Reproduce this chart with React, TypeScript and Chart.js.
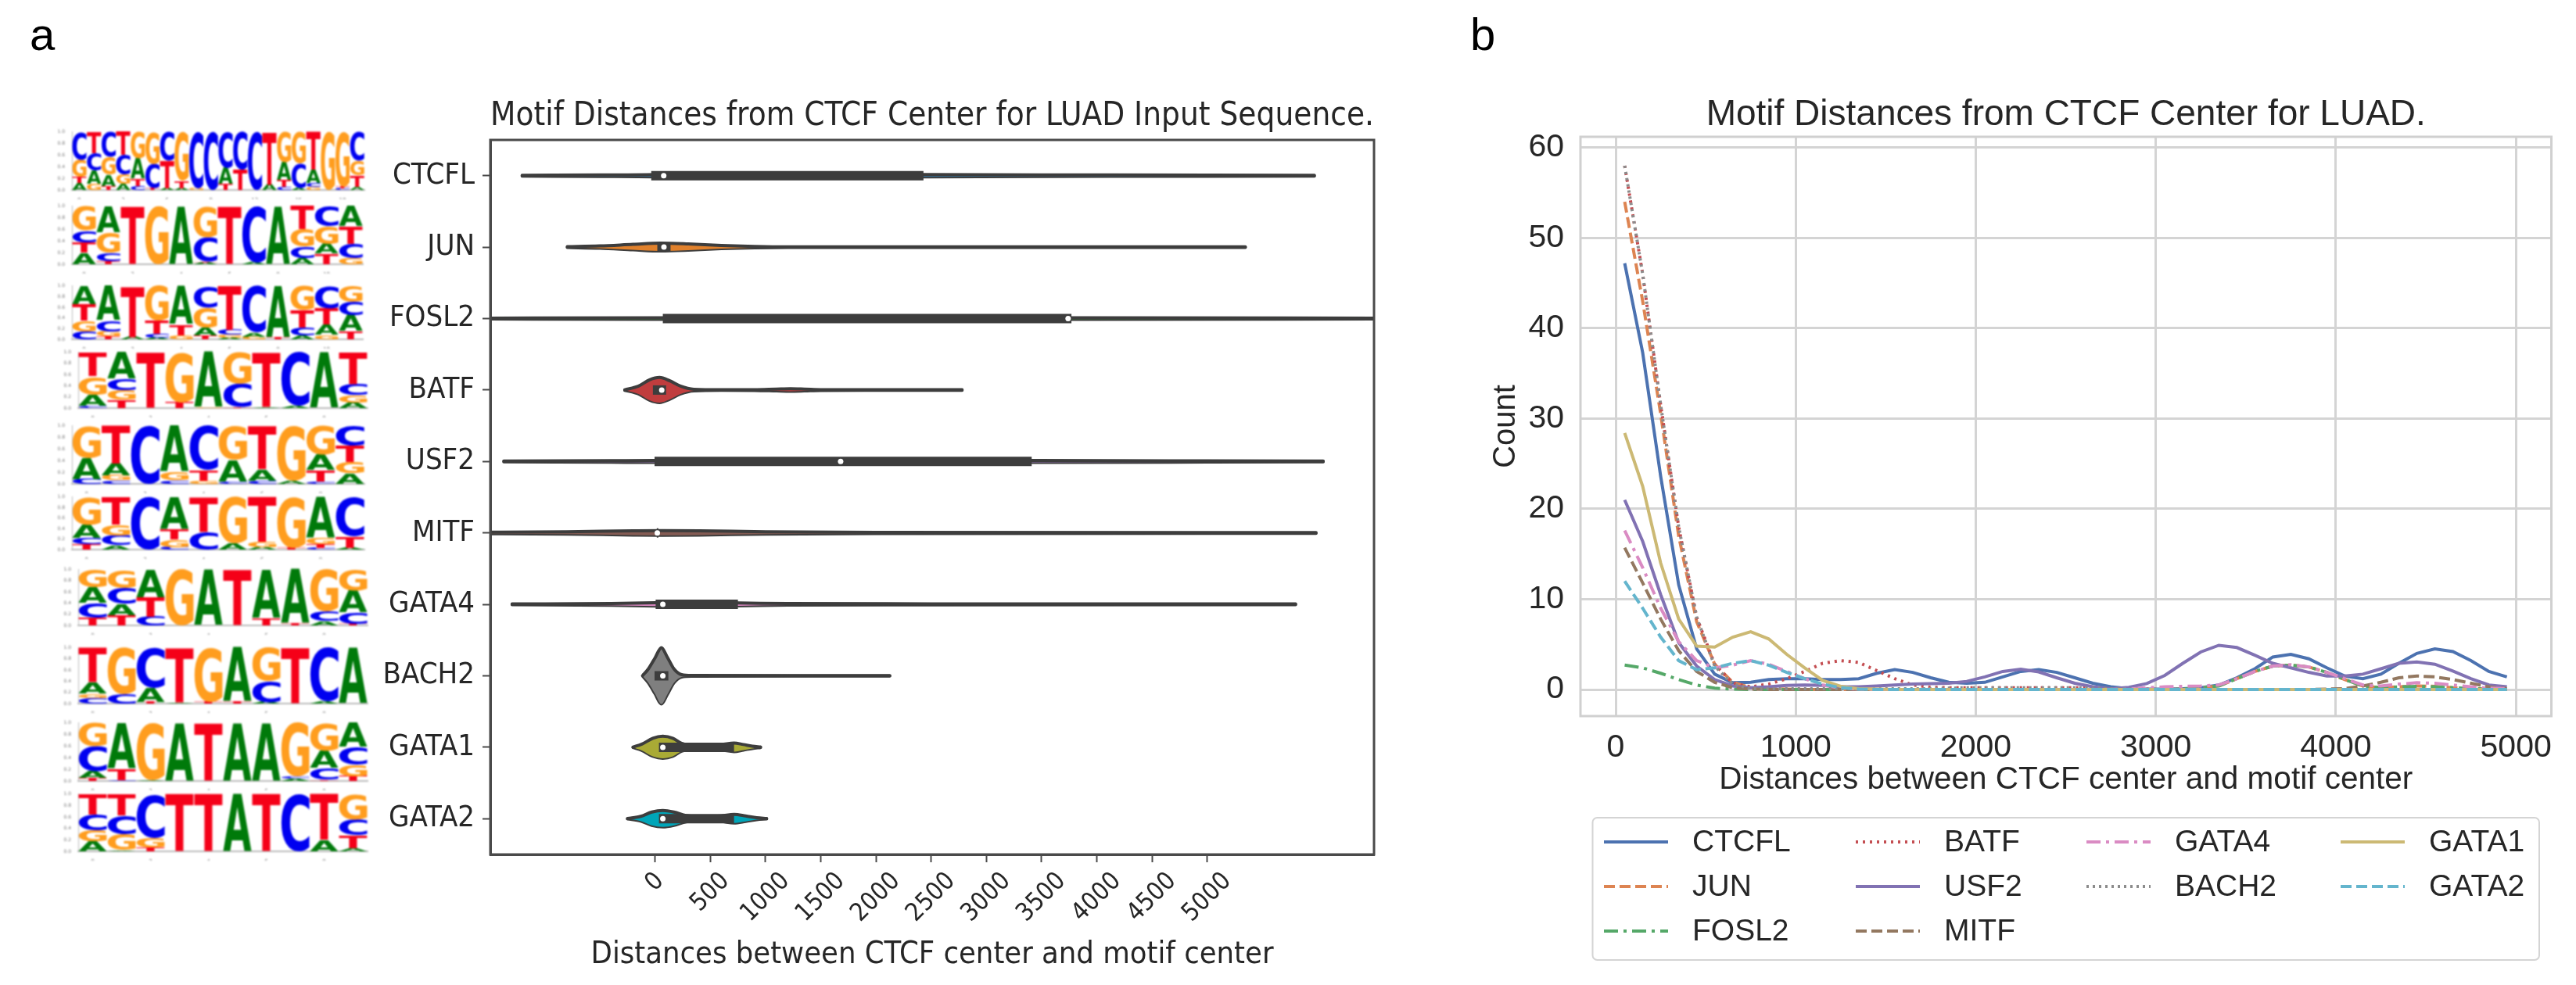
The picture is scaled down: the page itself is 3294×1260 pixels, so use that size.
import React, { useEffect, useRef } from "react";
import { Chart, registerables } from "chart.js";

Chart.register(...registerables);

/* ---------- panel a: violin data ---------- */
const motifs = ["CTCFL", "JUN", "FOSL2", "BATF", "USF2", "MITF", "GATA4", "BACH2", "GATA1", "GATA2"];
const violinTicks = [0, 500, 1000, 1500, 2000, 2500, 3000, 3500, 4000, 4500, 5000];
const violinColors = ["#3274a1", "#e1812c", "#3a923a", "#c03d3e", "#9372b2", "#845b53", "#d684bd", "#7f7f7f", "#a9aa35", "#00a5b8"];

const ctcflShape = [[-1204, 0.5], [-500, 1], [0, 1.5], [80, 2], [500, 2], [2430, 1.5], [3500, 1], [5000, 0.7], [5970, 0.5]];
const junShape = [[-795, 0.5], [-500, 1.5], [-200, 3.5], [50, 5], [300, 4], [600, 2], [900, 0.8], [1200, 0.3], [5345, 0.3]];
const fosl2Shape = [[-1700, 0.5], [70, 1], [3770, 1], [6800, 0.5]];
const batfShape = [[-275, 0.3], [-150, 5], [-50, 13], [40, 16], [130, 12], [230, 5], [350, 1], [600, 0.4], [900, 0.5], [1100, 1.2], [1225, 1.6], [1350, 1.2], [1500, 0.5], [1900, 0.3], [2780, 0.3]];
const usf2Shape = [[-1370, 0.5], [-400, 1], [0, 1.2], [1680, 1.2], [3410, 1.2], [5000, 0.8], [6050, 0.5]];
const mitfShape = [[-1700, 0.8], [-800, 1.5], [-200, 2.7], [60, 3], [400, 2.7], [1000, 1.5], [2000, 0.8], [5985, 0.5]];
const gata4Shape = [[-1295, 0.5], [-400, 1.2], [0, 2.2], [70, 2.5], [400, 2], [750, 1.8], [1200, 1], [2500, 0.7], [5800, 0.5]];
const bach2Shape = [[-113, 0.3], [-60, 9], [0, 23], [57, 36], [110, 24], [170, 9], [240, 1.5], [330, 0.4], [2125, 0.3]];
const gata1Shape = [[-200, 0.3], [-120, 4], [-20, 11.5], [70, 14], [160, 11.5], [240, 5], [330, 2.5], [600, 3.5], [715, 5.5], [800, 3.5], [880, 1.5], [955, 0.3]];
const gata2Shape = [[-250, 0.3], [-130, 3], [-30, 8.5], [70, 10.5], [170, 8.5], [280, 4], [400, 2.5], [600, 3.5], [715, 5.5], [820, 3.5], [920, 1.2], [1010, 0.3]];
const violinShapes = [ctcflShape, junShape, fosl2Shape, batfShape, usf2Shape, mitfShape, gata4Shape, bach2Shape, gata1Shape, gata2Shape];

const boxQ1 = [-35, 20, 70, -20, -5, 15, 5, -5, 35, 35];
const boxQ3 = [2430, 140, 3770, 100, 3410, 30, 750, 120, 715, 715];
const medians = [78, 80, 3740, 60, 1680, 20, 70, 70, 70, 70];

/* ---------- panel a: sequence logos (bottom to top in each column) ---------- */
const logoCTCFL = [
  "A.12 T.10 G.30 C.48", "G.10 A.23 C.30 T.37", "T.07 A.20 G.30 C.43", "A.10 G.16 C.34 T.40", "C.07 T.13 A.35 G.45",
  "T.03 C.42 G.55", "A.03 T.47 C.50", "A.03 T.13 G.84", "G.03 C.97", "C1", "T.10 A.28 C.62", "T.35 C.65", "C1",
  "A.10 T.90", "C.05 T.12 A.31 G.52", "A.04 C.42 G.54", "G.05 C.07 A.23 T.65", "G1", "C.03 T.03 G.94", "A.05 T.20 G.25 C.50",
];
const logoJUN = [
  "A.20 T.18 C.20 G.42", "T.05 C.15 G.35 A.45", "T1", "G1", "A1", "A.03 T.02 C.42 G.53", "T1", "A.03 C.97", "A1",
  "A.10 C.20 G.30 T.40", "T.18 A.17 G.30 C.35", "G.10 C.25 T.30 A.35",
];
const logoFOSL2 = [
  "C.15 G.20 T.30 A.35", "T.05 G.10 C.20 A.65", "A.05 T.95", "A.03 C.07 T.25 G.65", "G.08 T.20 A.72", "T.07 A.15 G.38 C.40",
  "A.03 G.05 C.10 T.82", "G.05 A.08 C.87", "T.03 A.97", "A.07 C.15 T.33 G.45", "G.08 A.20 T.30 C.42", "T.15 A.30 C.25 G.30",
];
const logoBATF = [
  "C.04 A.20 G.33 T.43", "T.15 G.17 C.20 A.48", "T1", "T.10 G.90", "G.01 A.99", "T.02 C.42 G.56", "A.02 T.98", "A.04 C.96", "A1", "A.10 G.13 C.20 T.57",
];
const logoUSF2 = [
  "C.08 A.37 G.55", "C.06 G.08 A.21 T.65", "C1", "C.06 G.14 A.80", "G.06 T.18 C.76", "C.04 A.37 G.59", "C.05 A.20 T.75", "A.05 G.95",
  "C.04 T.20 A.26 G.50", "A.18 G.20 T.28 C.34",
];
const logoMITF = [
  "T.10 C.12 A.25 G.53", "A.08 C.19 G.20 T.53", "C1", "C.05 G.14 T.20 A.61", "C.33 T.67", "A.12 G.88", "A.05 G.10 T.85", "T.03 G.97",
  "C.03 T.07 G.12 A.78", "A.03 T.22 C.75",
];
const logoGATA4 = [
  "T.14 C.26 A.28 G.32", "T.18 A.21 C.28 G.33", "C.16 T.34 A.50", "G1", "A1", "T1", "T.13 A.87", "T.03 A.97", "A.08 C.17 G.75", "T.03 C.20 A.40 G.37",
];
const logoBACH2 = [
  "C.10 G.08 A.20 T.62", "C.17 G.83", "T.03 A.25 C.72", "A.02 T.98", "T.03 G.97", "T.03 A.97", "A.03 C.37 G.60", "T1", "A.04 C.96", "A1",
];
const logoGATA1 = [
  "T.05 A.12 C.43 G.40", "C.02 T.20 A.78", "A.02 G.98", "A1", "T1", "A1", "A1", "A.04 C.04 G.92", "T.02 C.20 A.30 G.48", "T.08 G.20 C.30 A.42",
];
const logoGATA2 = [
  "A.17 G.20 C.27 T.36", "A.02 G.28 C.33 T.37", "T.07 G.17 C.76", "T1", "T1", "A1", "T1", "C1", "A.20 T.80", "A.06 T.22 C.27 G.45",
];
const logos = [logoCTCFL, logoJUN, logoFOSL2, logoBATF, logoUSF2, logoMITF, logoGATA4, logoBACH2, logoGATA1, logoGATA2];
const logoBoxes = [
  [92, 166, 374, 77], [92, 261, 372, 77], [92, 363, 372, 71], [100, 448, 370, 74], [92, 542, 374, 77],
  [92, 633, 374, 70], [100, 726, 370, 74], [100, 826, 370, 74], [100, 922, 370, 77], [100, 1013, 370, 76],
];
const letterColors = { A: "#007a0a", C: "#0000f0", G: "#ff9d1e", T: "#f50018" };

/* ---------- panel b: line data ---------- */
const binCenters = [
  50, 150, 250, 350, 450, 550, 650, 750, 850, 950, 1050, 1150, 1250, 1350, 1450, 1550, 1650, 1750, 1850, 1950, 2050, 2150, 2250, 2350, 2450,
  2550, 2650, 2750, 2850, 2950, 3050, 3150, 3250, 3350, 3450, 3550, 3650, 3750, 3850, 3950, 4050, 4150, 4250, 4350, 4450, 4550, 4650, 4750, 4850, 4950,
];
const ctcfl = [47.2, 37.3, 23.6, 11.6, 4.5, 1.7, 0.75, 0.8, 1.1, 1.2, 1.2, 1.1, 1.1, 1.2, 1.8, 2.2, 1.9, 1.3, 0.8, 0.7, 0.8, 1.4, 2.0, 2.2, 1.9, 1.3, 0.7, 0.3, 0.1, 0.05, 0.05, 0.1, 0.2, 0.5, 1.3, 2.3, 3.6, 3.9, 3.4, 2.4, 1.5, 1.2, 1.7, 2.9, 4.0, 4.5, 4.2, 3.2, 2.0, 1.4];
const jun = [54, 43, 30.5, 17, 7.5, 2.8, 0.8, 0.2, 0.1, 0.05, 0, 0, 0, 0, 0, 0, 0, 0, 0, 0, 0, 0, 0, 0, 0, 0, 0, 0, 0, 0, 0, 0.05, 0.2, 0.4, 1.2, 2, 2.6, 2.7, 2.5, 1.9, 1.1, 0.4, 0.2, 0.3, 0.4, 0.35, 0.2, 0.1, 0.05, 0];
const fosl2 = [2.7, 2.4, 1.8, 1.1, 0.5, 0.15, 0.05, 0, 0, 0, 0, 0, 0, 0, 0, 0, 0, 0, 0, 0, 0, 0, 0, 0, 0, 0, 0, 0, 0, 0, 0, 0.05, 0.2, 0.4, 1.2, 2, 2.6, 2.7, 2.5, 1.9, 1.1, 0.4, 0.2, 0.3, 0.35, 0.3, 0.2, 0.1, 0.05, 0];
const batf = [58, 46, 31.5, 18, 8, 2.8, 0.7, 0.3, 0.6, 1.2, 2.0, 2.9, 3.2, 3.0, 2.1, 1.2, 0.5, 0.25, 0.2, 0.2, 0.2, 0.2, 0.2, 0.2, 0.2, 0.2, 0.15, 0.1, 0.05, 0.05, 0, 0, 0, 0, 0, 0, 0, 0, 0, 0, 0, 0, 0, 0, 0, 0, 0, 0, 0, 0];
const usf2 = [21, 16.4, 10.5, 5.2, 2.6, 1.1, 0.4, 0.2, 0.3, 0.45, 0.5, 0.45, 0.3, 0.3, 0.4, 0.5, 0.6, 0.65, 0.7, 0.9, 1.4, 2.0, 2.25, 1.95, 1.3, 0.7, 0.3, 0.1, 0.25, 0.66, 1.56, 2.9, 4.16, 4.9, 4.65, 3.8, 2.9, 2.4, 1.9, 1.5, 1.5, 1.7, 2.3, 2.9, 3.05, 2.8, 2.05, 1.2, 0.5, 0.3];
const mitf = [15.7, 11.8, 7.8, 4.3, 2, 0.8, 0.2, 0.05, 0, 0, 0, 0, 0, 0, 0, 0, 0, 0, 0, 0, 0, 0, 0, 0, 0, 0, 0, 0, 0, 0, 0, 0, 0, 0, 0, 0, 0, 0, 0, 0.05, 0.1, 0.4, 0.8, 1.3, 1.5, 1.4, 1.1, 0.7, 0.3, 0.1];
const gata4 = [17.6, 13.5, 9, 5.3, 3.2, 2.4, 2.7, 3.2, 2.8, 2.0, 1.2, 0.5, 0.15, 0.05, 0, 0, 0, 0, 0, 0, 0, 0, 0, 0, 0, 0, 0, 0, 0.05, 0.2, 0.3, 0.35, 0.4, 0.5, 1.2, 2.0, 2.6, 2.75, 2.5, 1.9, 1.2, 0.5, 0.4, 0.6, 0.75, 0.7, 0.5, 0.3, 0.15, 0.1];
const bach2 = [58, 46, 31.5, 18, 8, 2.6, 0.6, 0.1, 0.1, 0.1, 0.1, 0.1, 0.1, 0.1, 0.1, 0.1, 0.1, 0.1, 0.15, 0.2, 0.2, 0.2, 0.2, 0.2, 0.2, 0.2, 0.15, 0.1, 0.05, 0, 0, 0, 0, 0, 0, 0, 0, 0, 0, 0, 0, 0, 0, 0, 0, 0, 0, 0, 0, 0, 0];
const gata1 = [28.4, 22.5, 14, 7.8, 4.8, 4.7, 5.8, 6.4, 5.6, 3.9, 2.4, 1.0, 0.35, 0.1, 0.05, 0, 0, 0, 0, 0, 0, 0, 0, 0, 0, 0, 0, 0, 0, 0, 0, 0, 0, 0, 0, 0, 0, 0, 0, 0, 0, 0, 0, 0, 0, 0, 0, 0, 0, 0];
const gata2 = [12, 9, 5.8, 3.2, 2.2, 2.4, 2.9, 3.2, 2.7, 1.9, 1.2, 0.6, 0.2, 0.05, 0, 0, 0, 0, 0, 0, 0, 0, 0, 0, 0, 0, 0, 0, 0, 0, 0, 0, 0, 0, 0, 0, 0, 0, 0, 0, 0, 0, 0, 0, 0, 0, 0, 0, 0, 0];
const lineSeries = [ctcfl, jun, fosl2, batf, usf2, mitf, gata4, bach2, gata1, gata2];
const lineColors = ["#4c72b0", "#dd8452", "#55a868", "#c44e52", "#8172b3", "#937860", "#da8bc3", "#8c8c8c", "#ccb974", "#64b5cd"];
const lineDashes = [[], [14, 6], [18, 7, 4, 7], [3, 6], [], [14, 6], [18, 7, 4, 7], [3, 5], [], [14, 6]];
const countTicks = [0, 10, 20, 30, 40, 50, 60];
const distanceTicks = [0, 1000, 2000, 3000, 4000, 5000];

const LEFT_FONT = "'DejaVu Sans Condensed', 'DejaVu Sans'";
const LOGO_FONT = "'DejaVu Sans'";
const RIGHT_FONT = "'Liberation Sans'";
const ROW_PX = 91.2;

const fixedTicks = (values: number[]) => (scale: any) => {
  scale.ticks = values.map((value) => ({ value }));
};

const framePlugin = (color: string, width: number) => ({
  id: "frame",
  afterDatasetsDraw(chart: any) {
    const { left, top, right, bottom } = chart.chartArea;
    const { ctx } = chart;
    ctx.save();
    ctx.strokeStyle = color;
    ctx.lineWidth = width;
    ctx.strokeRect(left, top, right - left, bottom - top);
    ctx.restore();
  },
});

/* rotated tick labels are centred on their ticks, as in the reference */
const centerRotatedTicks = {
  id: "centerRotatedTicks",
  beforeDraw(chart: any) {
    const scale = chart.scales.x;
    const { ctx } = chart;
    ctx.save();
    scale.getLabelItems().forEach((item: any, i: number) => {
      ctx.font = item.font.string;
      const w = ctx.measureText(item.label).width;
      const half = ((w + item.font.size * 0.73) * Math.SQRT1_2) / 2;
      item.options.textAlign = "center";
      item.options.textBaseline = "middle";
      item.textOffset = 0;
      item.options.translation = [scale.getPixelForValue(violinTicks[i]), scale.top + 21 + half];
    });
    ctx.restore();
  },
};

function violinConfig() {
  const datasets: any[] = [];
  motifs.forEach((name, row) => {
    const shape = violinShapes[row];
    const style = {
      type: "scatter",
      showLine: true,
      pointRadius: 0,
      borderColor: "#3d3d3d",
      borderWidth: 4,
      borderCapStyle: "round",
      cubicInterpolationMode: "monotone",
      order: 3,
    };
    datasets.push({
      ...style,
      label: name,
      data: shape.map(([x, h]) => ({ x, y: row - h / ROW_PX })),
      fill: "+1",
      backgroundColor: violinColors[row],
    });
    datasets.push({
      ...style,
      label: name + " lower",
      data: shape.map(([x, h]) => ({ x, y: row + h / ROW_PX })),
      fill: false,
    });
  });
  motifs.forEach((name, row) => {
    datasets.push({
      type: "scatter",
      label: name + " box",
      showLine: true,
      pointRadius: 0,
      borderColor: "#3d3d3d",
      borderWidth: 12,
      borderCapStyle: "butt",
      order: 2,
      data: [{ x: boxQ1[row], y: row }, { x: boxQ3[row], y: row }],
    });
  });
  datasets.push({
    type: "scatter",
    label: "median",
    showLine: false,
    pointRadius: 3.5,
    pointBackgroundColor: "#ffffff",
    pointBorderWidth: 0,
    order: 1,
    data: medians.map((x, row) => ({ x, y: row })),
  });
  return {
    type: "scatter",
    data: { datasets },
    plugins: [framePlugin("#4a4a4a", 3), centerRotatedTicks],
    options: {
      responsive: false,
      animation: false,
      events: [],
      layout: { padding: { top: 0, right: 147, bottom: 0, left: 0 } },
      plugins: {
        legend: { display: false },
        tooltip: { enabled: false },
        title: {
          display: true,
          fullSize: false,
          text: "Motif Distances from CTCF Center for LUAD Input Sequence.",
          color: "#262626",
          font: { family: LEFT_FONT, size: 42, weight: "normal", lineHeight: 1 },
          padding: { top: 128, bottom: 9 },
        },
      },
      scales: {
        x: {
          type: "linear",
          min: -1492,
          max: 6510,
          afterFit: (s: any) => { s.height = 167; },
          afterBuildTicks: fixedTicks(violinTicks),
          border: { color: "#4a4a4a", width: 3 },
          grid: { drawOnChartArea: false, drawTicks: true, tickLength: 10, tickColor: "#4a4a4a", tickWidth: 2 },
          ticks: { autoSkip: false, minRotation: 45, maxRotation: 45, color: "#262626", font: { family: LEFT_FONT, size: 32 }, callback: (v: any) => String(v) },
          title: {
            display: true,
            text: "Distances between CTCF center and motif center",
            color: "#262626",
            font: { family: LEFT_FONT, size: 39.5, lineHeight: 1 },
            padding: { top: 0, bottom: 19 },
          },
        },
        y: {
          type: "linear",
          reverse: true,
          min: -0.5,
          max: 9.5,
          afterFit: (s: any) => { s.width = 147; },
          afterBuildTicks: fixedTicks(motifs.map((_, i) => i)),
          border: { color: "#4a4a4a", width: 3 },
          grid: { drawOnChartArea: false, drawTicks: true, tickLength: 10, tickColor: "#4a4a4a", tickWidth: 2 },
          ticks: { autoSkip: false, padding: 10, color: "#262626", font: { family: LEFT_FONT, size: 38 }, callback: (v: any) => motifs[v] },
        },
      },
    },
  };
}

/* sequence logos: stacked bars whose rectangles receive a stretched letter */
const logoLetters = {
  id: "logoLetters",
  afterDatasetsDraw(chart: any) {
    const { ctx } = chart;
    const columns = chart.config.options.plugins.logoLetters.columns;
    ctx.save();
    ctx.font = `bold 100px ${LOGO_FONT}`;
    ctx.textAlign = "left";
    ctx.textBaseline = "alphabetic";
    chart.data.datasets.forEach((_: any, layer: number) => {
      chart.getDatasetMeta(layer).data.forEach((bar: any, col: number) => {
        const cell = columns[col][layer];
        if (!cell) return;
        const top = Math.min(bar.y, bar.base);
        const h = Math.abs(bar.base - bar.y);
        const x0 = bar.x - bar.width / 2;
        const m = ctx.measureText(cell.letter);
        const gw = m.actualBoundingBoxRight + m.actualBoundingBoxLeft;
        const gh = m.actualBoundingBoxAscent + m.actualBoundingBoxDescent;
        ctx.save();
        ctx.translate(x0, top);
        ctx.scale(bar.width / gw, h / gh);
        ctx.fillStyle = letterColors[cell.letter];
        ctx.fillText(cell.letter, m.actualBoundingBoxLeft, m.actualBoundingBoxAscent);
        ctx.restore();
      });
    });
    ctx.restore();
  },
};

function logoConfig(logo: string[], leftAxis: number, bottomAxis: number) {
  const columns = logo.map((s) =>
    s.split(" ").map((t) => ({ letter: t[0], height: parseFloat(t.slice(1)) })),
  );
  const labels = logo.map((_, i) => i);
  const datasets = [0, 1, 2, 3].map((layer) => ({
    label: "layer " + layer,
    data: columns.map((c) => (c[layer] ? c[layer].height : 0)),
    backgroundColor: "rgba(0,0,0,0)",
    barPercentage: 0.98,
    categoryPercentage: 1,
  }));
  const step = logo.length > 12 ? 3 : 2;
  return {
    type: "bar",
    data: { labels, datasets },
    plugins: [logoLetters],
    options: {
      responsive: false,
      animation: false,
      events: [],
      layout: { padding: { top: 2, right: 2, bottom: 0, left: 0 } },
      plugins: { legend: { display: false }, tooltip: { enabled: false }, logoLetters: { columns } },
      scales: {
        x: {
          stacked: true,
          afterFit: (s: any) => { s.height = bottomAxis; },
          border: { color: "#bbbbbb", width: 2 },
          grid: { display: false },
          ticks: { autoSkip: false, maxRotation: 0, padding: 1, color: "#777777", font: { family: LOGO_FONT, size: 7 }, callback: (v: any) => (v % step === 0 ? String(v) : "") },
        },
        y: {
          stacked: true,
          min: 0,
          max: 1,
          afterFit: (s: any) => { s.width = leftAxis; },
          afterBuildTicks: fixedTicks([0, 0.2, 0.4, 0.6, 0.8, 1]),
          border: { color: "#bbbbbb", width: 1 },
          grid: { display: false },
          ticks: { padding: 1, color: "#777777", font: { family: LOGO_FONT, size: 6 }, callback: (v: any) => Number(v).toFixed(1) },
        },
      },
    },
  };
}

const legendColumnX = [2051, 2373, 2668, 2993];
const legendRowY = [1077, 1134, 1191];
const legendColumns = [["CTCFL", "JUN", "FOSL2"], ["BATF", "USF2", "MITF"], ["GATA4", "BACH2"], ["GATA1", "GATA2"]];
const LINE_CANVAS_LEFT = 1800;

const columnLegend = {
  id: "columnLegend",
  afterDraw(chart: any) {
    const { ctx } = chart;
    ctx.save();
    ctx.strokeStyle = "#d4d4d4";
    ctx.lineWidth = 2;
    ctx.beginPath();
    ctx.roundRect(2036.5 - LINE_CANVAS_LEFT, 1046, 1210.5, 182, 6);
    ctx.stroke();
    ctx.font = `39px ${RIGHT_FONT}`;
    ctx.textBaseline = "middle";
    ctx.textAlign = "left";
    legendColumns.forEach((col, c) => {
      col.forEach((name, r) => {
        const ds = chart.data.datasets.find((d: any) => d.label === name);
        const x = legendColumnX[c] - LINE_CANVAS_LEFT;
        const y = legendRowY[r];
        ctx.strokeStyle = ds.borderColor;
        ctx.lineWidth = ds.borderWidth;
        ctx.setLineDash(ds.borderDash);
        ctx.beginPath();
        ctx.moveTo(x, y);
        ctx.lineTo(x + 82, y);
        ctx.stroke();
        ctx.setLineDash([]);
        ctx.fillStyle = "#262626";
        ctx.fillText(name, x + 113, y + 1);
      });
    });
    ctx.restore();
  },
};

function lineConfig() {
  return {
    type: "line",
    data: {
      datasets: motifs.map((name, i) => ({
        label: name,
        data: binCenters.map((x, k) => ({ x, y: lineSeries[i][k] })),
        borderColor: lineColors[i],
        borderDash: lineDashes[i],
        borderWidth: 4,
        pointRadius: 0,
        tension: 0,
        fill: false,
        order: -i,
      })),
    },
    plugins: [framePlugin("#d0d0d0", 3), columnLegend],
    options: {
      responsive: false,
      animation: false,
      events: [],
      layout: { padding: { top: 0, right: 219.5, bottom: 0, left: 0 } },
      plugins: {
        legend: { display: false },
        tooltip: { enabled: false },
        title: {
          display: true,
          fullSize: false,
          text: "Motif Distances from CTCF Center for LUAD.",
          color: "#262626",
          font: { family: RIGHT_FONT, size: 46, weight: "normal", lineHeight: 1 },
          padding: { top: 124, bottom: 5 },
        },
      },
      scales: {
        x: {
          type: "linear",
          min: -195.5,
          max: 5197,
          afterFit: (s: any) => { s.height = 344; },
          afterBuildTicks: fixedTicks(distanceTicks),
          border: { display: false },
          grid: { color: "#d4d4d4", lineWidth: 3, drawTicks: false },
          ticks: { autoSkip: false, maxRotation: 0, padding: 16, color: "#262626", font: { family: RIGHT_FONT, size: 41 }, callback: (v: any) => String(v) },
          title: {
            display: true,
            text: "Distances between CTCF center and motif center",
            color: "#262626",
            font: { family: RIGHT_FONT, size: 40.5, lineHeight: 1 },
            padding: { top: 0, bottom: 242 },
          },
        },
        y: {
          type: "linear",
          min: -2.94,
          max: 61.2,
          afterFit: (s: any) => { s.width = 221; },
          afterBuildTicks: fixedTicks(countTicks),
          border: { display: false },
          grid: { color: "#d4d4d4", lineWidth: 3, drawTicks: false },
          ticks: { autoSkip: false, padding: 21, color: "#262626", font: { family: RIGHT_FONT, size: 41 }, callback: (v: any) => String(v) },
          title: {
            display: true,
            text: "Count",
            color: "#262626",
            font: { family: RIGHT_FONT, size: 40, lineHeight: 1 },
            padding: { top: 106, bottom: 0 },
          },
        },
      },
    },
  };
}

function ChartBox({ x, y, w, h, make, blur }: any) {
  const ref = useRef<HTMLCanvasElement>(null);
  useEffect(() => {
    const chart = new Chart(ref.current as any, make());
    return () => chart.destroy();
  }, []);
  return (
    <canvas
      ref={ref}
      width={w}
      height={h}
      style={{ position: "absolute", left: x, top: y, width: w, height: h, filter: `blur(${blur}px)` }}
    />
  );
}

const panelLabel = (text: string, left: number) => (
  <div style={{ position: "absolute", left, top: 15, fontFamily: "'Liberation Sans'", fontSize: 58, lineHeight: "58px", color: "#000" }}>{text}</div>
);

export default function App() {
  return (
    <div style={{ position: "absolute", left: 0, top: 0, width: 3294, height: 1260, overflow: "hidden", background: "#fff" }}>
      {panelLabel("a", 38)}
      {panelLabel("b", 1880)}
      {logos.map((logo, i) => {
        const [lx, ly, lw, lh] = logoBoxes[i];
        return (
          <ChartBox
            key={motifs[i]}
            x={lx - 20}
            y={ly - 2}
            w={lw + 22}
            h={lh + 14}
            blur={1.1}
            make={() => logoConfig(logo, 20, 12)}
          />
        );
      })}
      <ChartBox x={480} y={0} w={1424} h={1260} blur={0.6} make={violinConfig} />
      <ChartBox x={LINE_CANVAS_LEFT} y={0} w={1682} h={1260} blur={0.6} make={lineConfig} />
    </div>
  );
}
